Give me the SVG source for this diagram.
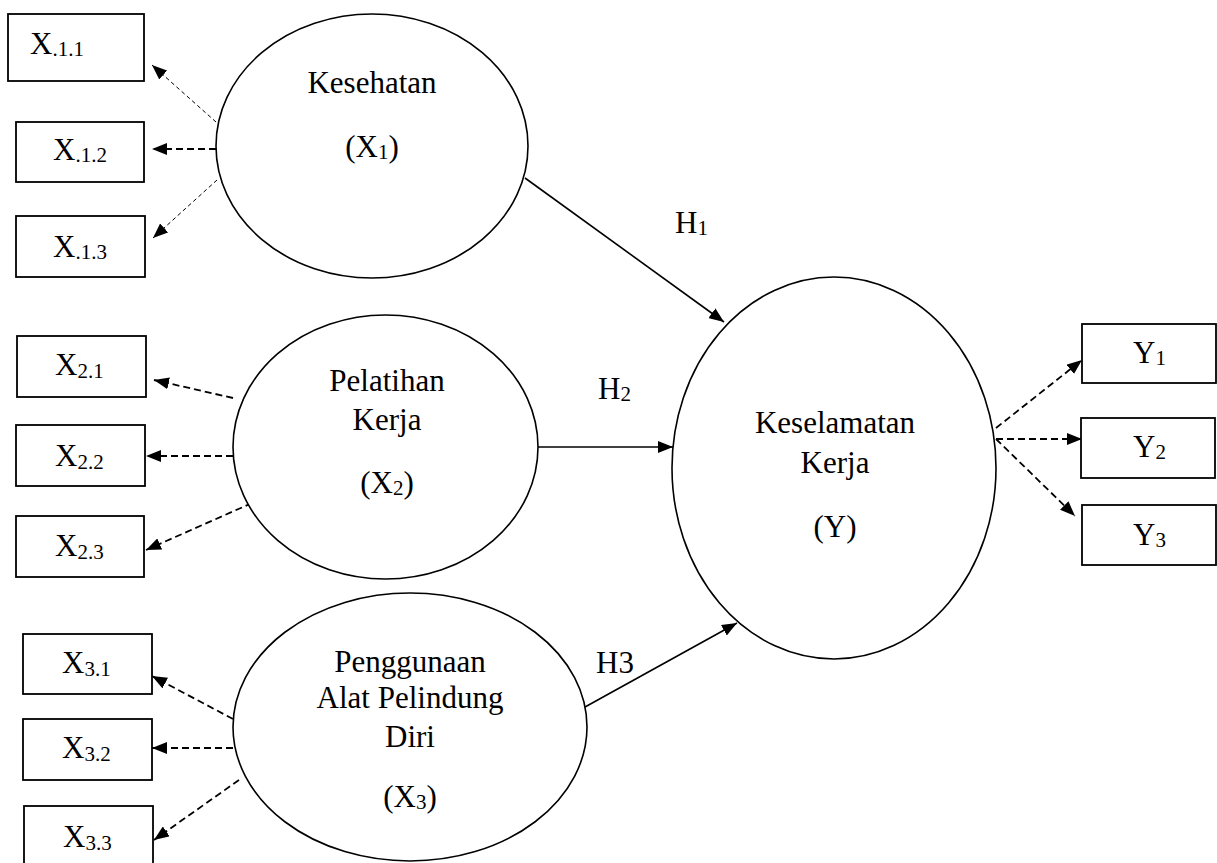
<svg xmlns="http://www.w3.org/2000/svg" width="1217" height="863" viewBox="0 0 1217 863">
<style>
text{font-family:"Liberation Serif","Times New Roman",serif;font-size:31px;fill:#000}
.c{text-anchor:middle}
.s{font-size:21px}
rect.box{fill:#fff;stroke:#000;stroke-width:1.8}
ellipse{fill:#fff;stroke:#000;stroke-width:1.6}
.solid{stroke:#000;stroke-width:1.6;fill:none}
.dash{stroke:#000;stroke-width:1.8;fill:none;stroke-dasharray:7 4}
.dash-thin{stroke:#000;stroke-width:1;fill:none;stroke-dasharray:4 3}
</style>
<defs>
<marker id="ah" viewBox="0 0 15 12" refX="15" refY="6" markerWidth="15" markerHeight="12" markerUnits="userSpaceOnUse" orient="auto">
<path d="M0,0 L15,6 L0,12 z" fill="#000"/>
</marker>
</defs>
<rect width="1217" height="863" fill="#fff"/>
<g id="connectors">
<line class="dash-thin" x1="216" y1="122" x2="152" y2="65" marker-end="url(#ah)"/>
<line class="dash" x1="216" y1="149" x2="152" y2="149" marker-end="url(#ah)"/>
<line class="dash-thin" x1="217" y1="180" x2="153" y2="238" marker-end="url(#ah)"/>
<line class="dash" x1="233" y1="398" x2="154" y2="380" marker-end="url(#ah)"/>
<line class="dash" x1="233" y1="456" x2="146" y2="456" marker-end="url(#ah)"/>
<line class="dash" x1="252" y1="503" x2="146" y2="550" marker-end="url(#ah)"/>
<line class="dash" x1="233" y1="719" x2="152" y2="676" marker-end="url(#ah)"/>
<line class="dash" x1="233" y1="748" x2="152" y2="748" marker-end="url(#ah)"/>
<line class="dash" x1="239" y1="780" x2="154" y2="840" marker-end="url(#ah)"/>
<line class="dash" x1="996" y1="428" x2="1082" y2="360" marker-end="url(#ah)"/>
<line class="dash" x1="996" y1="439" x2="1082" y2="439" marker-end="url(#ah)"/>
<line class="dash" x1="996" y1="439" x2="1075" y2="516" marker-end="url(#ah)"/>
<line class="solid" x1="525" y1="178" x2="724" y2="322" marker-end="url(#ah)"/>
<line class="solid" x1="538" y1="447" x2="673" y2="447" marker-end="url(#ah)"/>
<line class="solid" x1="585" y1="707" x2="737" y2="623" marker-end="url(#ah)"/>
<text x="675" y="233">H<tspan class="s" dy="2">1</tspan></text>
<text x="598" y="399">H<tspan class="s" dy="2">2</tspan></text>
<text x="596" y="673">H3</text>
</g>
<g id="x1">
<ellipse cx="372" cy="146" rx="156" ry="132"/>
<text class="c" x="372" y="93">Kesehatan</text>
<text class="c" x="372" y="157">(X<tspan class="s" dy="2">1</tspan><tspan dy="-2">)</tspan></text>
</g>
<g id="x2">
<ellipse cx="385.5" cy="447" rx="152.5" ry="132"/>
<text class="c" x="387" y="391">Pelatihan</text>
<text class="c" x="387" y="430">Kerja</text>
<text class="c" x="387" y="493">(X<tspan class="s" dy="2">2</tspan><tspan dy="-2">)</tspan></text>
</g>
<g id="x3">
<ellipse cx="410" cy="727" rx="177" ry="134"/>
<text class="c" x="410" y="672">Penggunaan</text>
<text class="c" x="410" y="708">Alat Pelindung</text>
<text class="c" x="410" y="747">Diri</text>
<text class="c" x="410" y="807">(X<tspan class="s" dy="2">3</tspan><tspan dy="-2">)</tspan></text>
</g>
<g id="y">
<ellipse cx="834" cy="468" rx="162" ry="191"/>
<text class="c" x="835" y="433">Keselamatan</text>
<text class="c" x="835" y="473">Kerja</text>
<text class="c" x="835" y="537">(Y)</text>
</g>
<g id="x11"><rect class="box" x="8" y="14" width="136" height="67"/><text x="30" y="54">X<tspan class="s" dy="2">.1.1</tspan></text></g>
<g id="x12"><rect class="box" x="16" y="122" width="128" height="60"/><text x="53" y="160">X<tspan class="s" dy="2">.1.2</tspan></text></g>
<g id="x13"><rect class="box" x="16" y="216" width="129" height="61"/><text x="53" y="257">X<tspan class="s" dy="2">.1.3</tspan></text></g>
<g id="x21"><rect class="box" x="17" y="336" width="129" height="61"/><text x="55" y="375">X<tspan class="s" dy="3">2.1</tspan></text></g>
<g id="x22"><rect class="box" x="16" y="425" width="129" height="61"/><text x="55" y="466">X<tspan class="s" dy="3">2.2</tspan></text></g>
<g id="x23"><rect class="box" x="16" y="516" width="128" height="61"/><text x="55" y="556">X<tspan class="s" dy="3">2.3</tspan></text></g>
<g id="x31"><rect class="box" x="23" y="634" width="129" height="60"/><text x="62" y="673">X<tspan class="s" dy="3">3.1</tspan></text></g>
<g id="x32"><rect class="box" x="23" y="719" width="129" height="61"/><text x="62" y="758">X<tspan class="s" dy="3">3.2</tspan></text></g>
<g id="x33"><rect class="box" x="24" y="806" width="129" height="70"/><text x="63" y="847">X<tspan class="s" dy="3">3.3</tspan></text></g>
<g id="y1"><rect class="box" x="1082" y="324" width="134" height="59"/><text x="1133" y="363">Y<tspan class="s" dy="2">1</tspan></text></g>
<g id="y2"><rect class="box" x="1081" y="418" width="134" height="60"/><text x="1133" y="457">Y<tspan class="s" dy="2">2</tspan></text></g>
<g id="y3"><rect class="box" x="1082" y="505" width="134" height="60"/><text x="1133" y="545">Y<tspan class="s" dy="2">3</tspan></text></g>
</svg>
